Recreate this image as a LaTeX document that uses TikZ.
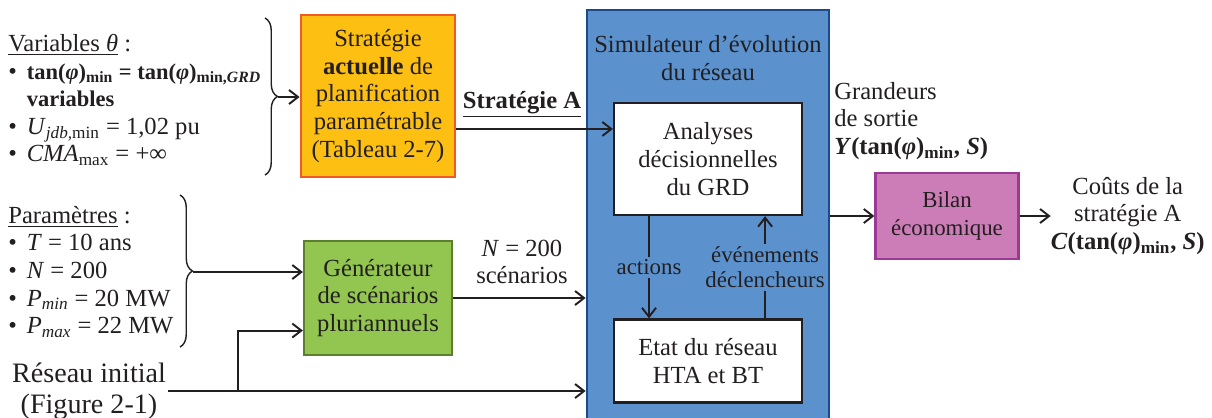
\documentclass[tikz,border=0pt]{standalone}
\usepackage{fontspec}
\setmainfont{Liberation Serif}
\usepackage{xcolor}
\usepackage{tikz}
\usetikzlibrary{arrows.meta,positioning,calc,decorations.pathreplacing}
\definecolor{txtgray}{HTML}{231F20}
\definecolor{orfill}{HTML}{FCBF12}
\definecolor{ordraw}{HTML}{F15A24}
\definecolor{simfill}{HTML}{5B92CE}
\definecolor{simdraw}{HTML}{1B4A8A}
\definecolor{genfill}{HTML}{92C650}
\definecolor{gendraw}{HTML}{5C7F2F}
\definecolor{bilfill}{HTML}{CC7DB7}
\definecolor{bildraw}{HTML}{9B3A95}
\newcommand{\sbs}[1]{\textsubscript{#1}}
\newcommand{\bul}{\textbullet\hspace{0.4em}}
\newcommand{\bfsm}{\fontsize{12.8}{15.7}\selectfont\bfseries}
\lineskiplimit=-20pt

\begin{document}
\begin{tikzpicture}[
  x=0.02cm, y=-0.02cm,
  every node/.style={text=txtgray,font=\fontsize{14}{15.7}\selectfont},
  orbox/.style ={rectangle,draw=ordraw,fill=orfill,line width=1.6pt,align=center,
                 minimum width=3.08cm,minimum height=3.24cm,inner sep=1pt},
  simbox/.style={rectangle,draw=simdraw,fill=simfill,line width=1.6pt,
                 minimum width=4.84cm,minimum height=8.4cm},
  wbox/.style  ={rectangle,draw=txtgray,fill=white,line width=1.3pt,align=center,
                 minimum width=3.76cm,inner sep=1pt},
  genbox/.style={rectangle,draw=gendraw,fill=genfill,line width=1.3pt,align=center,
                 minimum width=2.96cm,minimum height=2.28cm,inner sep=1pt},
  bilbox/.style={rectangle,draw=bildraw,fill=bilfill,line width=1.3pt,align=center,
                 minimum width=2.86cm,minimum height=1.72cm,inner sep=1pt,
                 font=\fontsize{13}{15.5}\selectfont},
  lbl/.style   ={align=center,inner sep=1pt},
  llbl/.style  ={align=left,inner sep=0pt,anchor=west},
  small/.style ={fill=simfill,align=center,inner sep=1.5pt,font=\fontsize{13}{14.5}\selectfont},
  brc/.style   ={decorate,decoration={brace,amplitude=0.25cm},draw=txtgray,line width=0.8pt},
  arrow/.style ={-{Straight Barb[length=1.8mm,width=2.8mm]},draw=txtgray,line width=1.1pt},
]
\useasboundingbox (0,0) rectangle (1212,417);
\clip (0,0) rectangle (1212,417);
\node[simbox] (sim) at (708,220) {};
\node[lbl] (simt) at (708,58) {Simulateur d’évolution\\du réseau};
\node[wbox,minimum height=2.24cm] (ana)  at (708,159) {Analyses\\décisionnelles\\du GRD};
\node[wbox,minimum height=1.66cm] (etat) at (708,361) {Etat du réseau\\HTA et BT};
\node[orbox]  (strat) at (378,96)  {Stratégie\\\textbf{actuelle} de\\planification\\paramétrable\\(Tableau 2-7)};
\node[genbox] (gen)   at (378,298) {Générateur\\de scénarios\\pluriannuels};
\node[bilbox] (bilan) at (947,216) {Bilan\\économique};
\node[llbl] (vars) at (8,100) {\underline{Variables \textit{θ}} :\\
  \bul{\bfsm tan(\textit{φ})\sbs{min} = tan(\textit{φ})\sbs{min,\textit{GRD}}}\\
  \phantom{\bul}{\bfsm variables}\\
  \bul\textit{U}\sbs{\textit{jdb,}min} = 1,02 pu\\
  \bul\textit{CMA}\sbs{max} = +∞};
\node[llbl] (params) at (8,272) {\underline{Paramètres} :\\
  \bul\textit{T} = 10 ans\\
  \bul\textit{N} = 200\\
  \bul\textit{P}\sbs{\textit{min}} = 20 MW\\
  \bul\textit{P}\sbs{\textit{max}} = 22 MW};
\node[lbl,font=\fontsize{16}{17.5}\selectfont] (reseau) at (89,391) {Réseau initial\\(Figure 2-1)};
\node[llbl] (sortie) at (834,121) {Grandeurs\\de sortie\\\textbf{\textit{Y}(tan(\textit{φ})\sbs{min}, \textit{S})}};
\node[lbl,right=0.62cm of bilan,inner xsep=0pt] (cout) {Coûts de la\\stratégie A\\\textbf{\textit{C}(tan(\textit{φ})\sbs{min}, \textit{S})}};
\node[lbl] (stra) at (522,104) {\textbf{\underline{Stratégie A}}};
\node[lbl] (nlab) at (522,262) {\textit{N} = 200\\scénarios};
\draw[brc] (265,18) -- (265,175);
\draw[brc] (180,195) -- (180,347);
\coordinate (vtip) at (278,97);
\coordinate (ptip) at (193,272);
\coordinate (split) at (238,391);
\coordinate (sout) at ($(strat.north east)!0.7!(strat.south east)$);
\coordinate (gin) at ($(gen.north west)!0.78!(gen.south west)$);
\coordinate (aout) at ($(ana.south west)!0.19!(ana.south east)$);
\coordinate (ein) at ($(ana.south west)!0.8!(ana.south east)$);
\draw[arrow] (vtip) -- (vtip -| strat.west);
\draw[arrow] (sout) -- (sout -| ana.west);
\draw[arrow] (ptip) -- (ptip -| gen.west);
\draw[arrow] (split) |- (gin);
\draw[arrow] (reseau.east) -- (reseau.east -| sim.west);
\draw[arrow] (gen.east) -- (gen.east -| sim.west);
\draw[arrow] (aout) -- node[small] {actions} (aout |- etat.north);
\draw[arrow] (ein |- etat.north) -- node[small] {événements\\déclencheurs} (ein);
\draw[arrow] (bilan.west -| sim.east) -- (bilan.west);
\draw[arrow] (bilan.east) -- (cout.west);
\end{tikzpicture}
\end{document}
